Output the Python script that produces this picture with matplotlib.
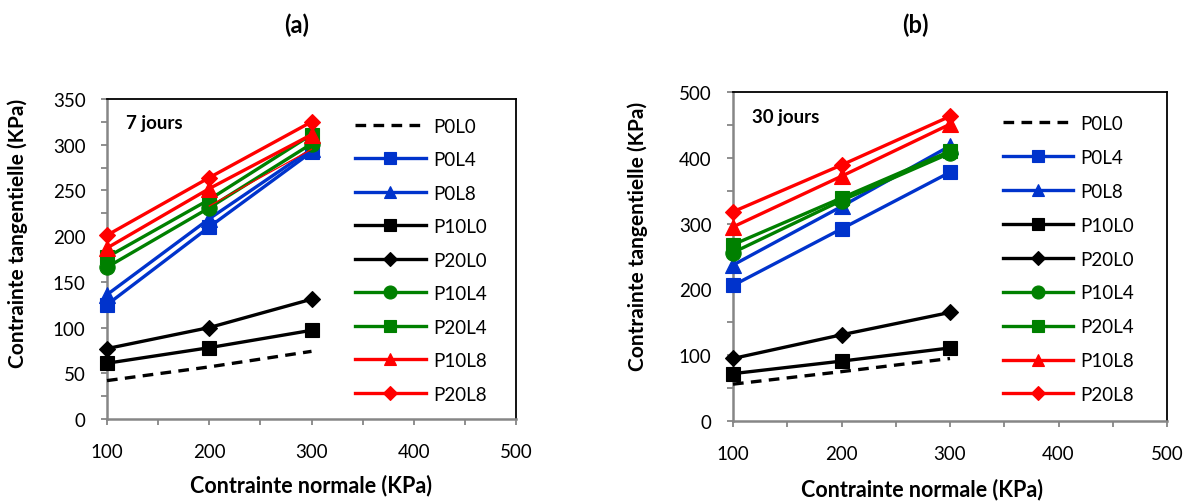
import matplotlib
matplotlib.use("Agg")
import matplotlib.pyplot as plt
from matplotlib.ticker import MultipleLocator

plt.rcParams['font.family'] = ['Lato', 'DejaVu Sans']

# ---------------- data ----------------
x_normal = [100, 200, 300]
labels = ["P0L0", "P0L4", "P0L8", "P10L0", "P20L0", "P10L4", "P20L4", "P10L8", "P20L8"]

# (a) 7 jours
a_P0L0 = [42, 57, 74]
a_P0L4 = [125, 210, 292]
a_P0L8 = [136, 219, 295]
a_P10L0 = [61, 78, 97]
a_P20L0 = [77, 100, 131]
a_P10L4 = [166, 231, 301]
a_P20L4 = [177, 240, 311]
a_P10L8 = [187, 252, 311]
a_P20L8 = [201, 264, 325]
a_extra_x = [200, 300]
a_extra_y = [233, 295]

# (b) 30 jours
b_P0L0 = [56, 75, 95]
b_P0L4 = [206, 292, 378]
b_P0L8 = [237, 326, 418]
b_P10L0 = [72, 91, 111]
b_P20L0 = [95, 131, 165]
b_P10L4 = [256, 335, 407]
b_P20L4 = [268, 339, 410]
b_P10L8 = [295, 372, 451]
b_P20L8 = [318, 389, 463]

blue = '#0033cc'
green = '#008000'
red = '#ff0000'
styles = {
    "P0L0": dict(color='black', ls=(0, (3.2, 2.2)), marker=None),
    "P0L4": dict(color=blue, ls='-', marker='s', ms=10.5),
    "P0L8": dict(color=blue, ls='-', marker='^', ms=11),
    "P10L0": dict(color='black', ls='-', marker='s', ms=10.5),
    "P20L0": dict(color='black', ls='-', marker='D', ms=8.5),
    "P10L4": dict(color=green, ls='-', marker='o', ms=11),
    "P20L4": dict(color=green, ls='-', marker='s', ms=10.5),
    "P10L8": dict(color=red, ls='-', marker='^', ms=11),
    "P20L8": dict(color=red, ls='-', marker='D', ms=8.5),
}

W, H = 1197, 502
fig = plt.figure(figsize=(W / 100, H / 100), dpi=100)


def ax_px(l, r, t, b):
    return fig.add_axes([l / W, (H - b) / H, (r - l) / W, (b - t) / H])


def style_axes(ax, ymax, ymajor, yminor):
    ax.set_xlim(100, 500)
    ax.set_ylim(0, ymax)
    ax.xaxis.set_major_locator(MultipleLocator(100))
    ax.xaxis.set_minor_locator(MultipleLocator(50))
    ax.yaxis.set_major_locator(MultipleLocator(ymajor))
    ax.yaxis.set_minor_locator(MultipleLocator(yminor))
    for s in ['top', 'right']:
        ax.spines[s].set_color('black')
        ax.spines[s].set_linewidth(1.3)
    for s in ['left', 'bottom']:
        ax.spines[s].set_color('#868686')
        ax.spines[s].set_linewidth(1.8)
    ax.tick_params(which='both', direction='out', length=4.5, width=1.3,
                   color='#868686', labelsize=13.5, labelcolor='black')
    ax.tick_params(axis='x', which='major', pad=13)
    ax.tick_params(axis='y', which='major', pad=11)


def draw(ax, series, legend_xy, spacing):
    handles = []
    for name, ys in zip(labels, series):
        st = styles[name]
        h, = ax.plot(x_normal, ys, color=st['color'], linestyle=st['ls'],
                     linewidth=2.4, marker=st['marker'], markersize=st.get('ms', 0),
                     markeredgewidth=0.8, label=name, clip_on=False, zorder=3)
        handles.append(h)
    leg = ax.legend(handles=handles, loc='upper left', bbox_to_anchor=legend_xy,
                    frameon=False, fontsize=13.5, handlelength=3.75, handletextpad=0.4,
                    labelspacing=spacing, borderpad=0, borderaxespad=0, markerscale=0.85)
    return leg


# panel (a)
axA = ax_px(107, 516, 100, 420)
style_axes(axA, 350, 50, 25)
draw(axA, [a_P0L0, a_P0L4, a_P0L8, a_P10L0, a_P20L0, a_P10L4, a_P20L4, a_P10L8, a_P20L8],
     (0.607, 0.942), 0.88)
axA.plot(a_extra_x, a_extra_y, color=red, linewidth=0.9, zorder=4)
fig.text(126 / W, (H - 123) / H, '7 jours', fontsize=13.5, fontweight='bold', va='center', ha='left')

# panel (b)
axB = ax_px(733, 1167, 93, 422)
style_axes(axB, 500, 100, 50)
draw(axB, [b_P0L0, b_P0L4, b_P0L8, b_P10L0, b_P20L0, b_P10L4, b_P20L4, b_P10L8, b_P20L8],
     (0.621, 0.93), 0.9)
fig.text(752 / W, (H - 118) / H, '30 jours', fontsize=13.5, fontweight='bold', va='center', ha='left')

# titles and axis labels
fig.text(297 / W, (H - 25) / H, '(a)', fontsize=17, fontweight='bold', ha='center', va='center')
fig.text(915 / W, (H - 25) / H, '(b)', fontsize=17, fontweight='bold', ha='center', va='center')
fig.text(311 / W, (H - 486) / H, 'Contrainte normale (KPa)', fontsize=15.5, fontweight='bold',
         ha='center', va='center')
fig.text(922 / W, (H - 490) / H, 'Contrainte normale (KPa)', fontsize=15.5, fontweight='bold',
         ha='center', va='center')
fig.text(18 / W, (H - 233) / H, 'Contrainte tangentielle (KPa)', fontsize=15, fontweight='bold',
         ha='center', va='center', rotation=90)
fig.text(638 / W, (H - 236) / H, 'Contrainte tangentielle (KPa)', fontsize=15, fontweight='bold',
         ha='center', va='center', rotation=90)

fig.savefig('out.png', dpi=100)
